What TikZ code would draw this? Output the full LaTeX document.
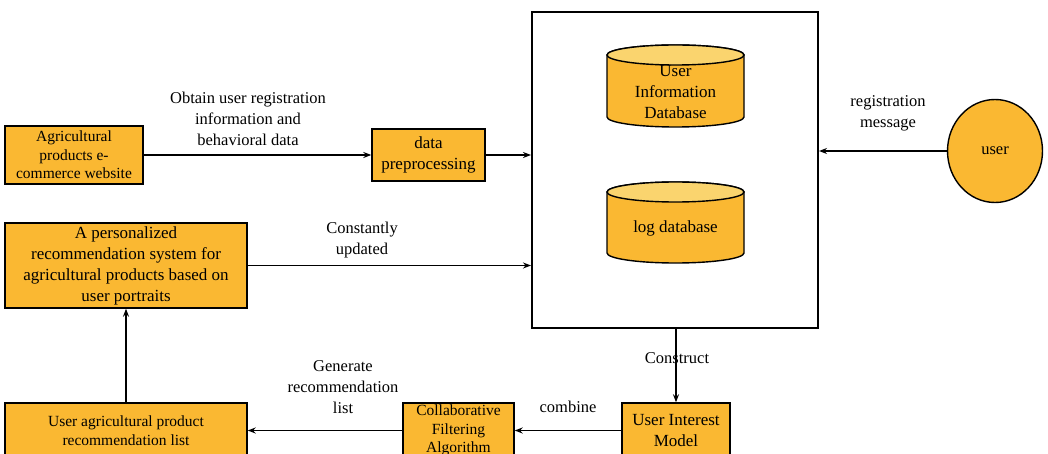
\documentclass[tikz,border=0pt]{standalone}
\usepackage{fontspec}
\setmainfont{Liberation Serif}
\usetikzlibrary{arrows.meta,shapes.geometric}
\definecolor{orng}{RGB}{250,184,50}
\definecolor{lorng}{RGB}{250,212,110}
\begin{document}
\begin{tikzpicture}[x=1pt,y=-1pt,
 box/.style={draw,line width=1.4pt,fill=orng,inner sep=1pt,align=center,font=\fontsize{17}{21}\selectfont},
 sbox/.style={box,font=\fontsize{15.5}{18.5}\selectfont},
 lbl/.style={align=center,font=\fontsize{16.5}{21}\selectfont,inner sep=1pt},
 cyl/.style={draw,line width=1.4pt,fill=orng},
 cyltop/.style={draw,line width=1.4pt,fill=lorng},
 arr/.style={line width=1.5pt,-{Stealth[length=8pt,width=6pt]}}]
\useasboundingbox (0,0) rectangle (1048,454);
% main system box
\node[draw,line width=2pt,fill=white,minimum width=286pt,minimum height=316pt] (sys) at (675,170) {};
% cylinders
\draw[cyl] (607,55) -- (607,117) arc (180:360:68.5pt and 10pt) -- (744,55) arc (0:180:68.5pt and 10pt) -- cycle;
\draw[cyltop] (675.5,55) ellipse (68.5pt and 10pt);
\draw[cyl] (607,192) -- (607,253) arc (180:360:68.5pt and 10pt) -- (744,192) arc (0:180:68.5pt and 10pt) -- cycle;
\draw[cyltop] (675.5,192) ellipse (68.5pt and 10pt);
\node[lbl,font=\fontsize{17}{21}\selectfont] (db1) at (675.5,92) {User\\Information\\Database};
\node[lbl,font=\fontsize{17}{21}\selectfont] (db2) at (675.5,228) {log database};
% boxes
\node[sbox,minimum width=138pt,minimum height=58pt] (ecom) at (74,155) {Agricultural\\products e-\\commerce website};
\node[box,minimum width=113pt,minimum height=52pt] (prep) at (428.5,155) {data\\preprocessing};
\node[box,minimum width=242pt,minimum height=85pt] (pers) at (126,265.5) {A personalized\\recommendation system for\\agricultural products based on\\user portraits};
\node[sbox,minimum width=242pt,minimum height=55pt] (list) at (126,430.5) {User agricultural product\\recommendation list};
\node[sbox,minimum width=111pt,minimum height=55pt] (collab) at (458.5,430.5) {Collaborative\\Filtering\\Algorithm};
\node[box,minimum width=108pt,minimum height=55pt] (uim) at (676,430.5) {User Interest\\Model};
\node[draw,ellipse,line width=1.4pt,fill=orng,minimum width=95pt,minimum height=103pt,inner sep=0pt,font=\fontsize{16.5}{21}\selectfont] (user) at (995,151) {user};
% labels
\node[lbl] (obtain) at (248,119) {Obtain user registration\\information and\\behavioral data};
\node[lbl] (regmsg) at (888,113) {registration\\message};
\node[lbl] (const) at (362,240) {Constantly\\updated};
\node[lbl] (gen) at (343,387) {Generate\\recommendation\\list};
\node[lbl] (comb) at (568,407) {combine};
% connectors
\draw[arr] (ecom.east) -- (prep.west);
\draw[arr] (prep.east) -- (sys.west |- prep.east);
\draw[arr] (user.west) -- (sys.east |- user.west);
\draw[arr] (pers.east) -- (sys.west |- pers.east);
\draw[arr] (list.north) -- (pers.south);
\draw[arr] (sys.south -| uim.north) -- (uim.north);
\draw[arr] (uim.west) -- (collab.east);
\draw[arr] (collab.west) -- (list.east);
\node[lbl] (constr) at (677,358) {Construct};
\end{tikzpicture}
\end{document}
